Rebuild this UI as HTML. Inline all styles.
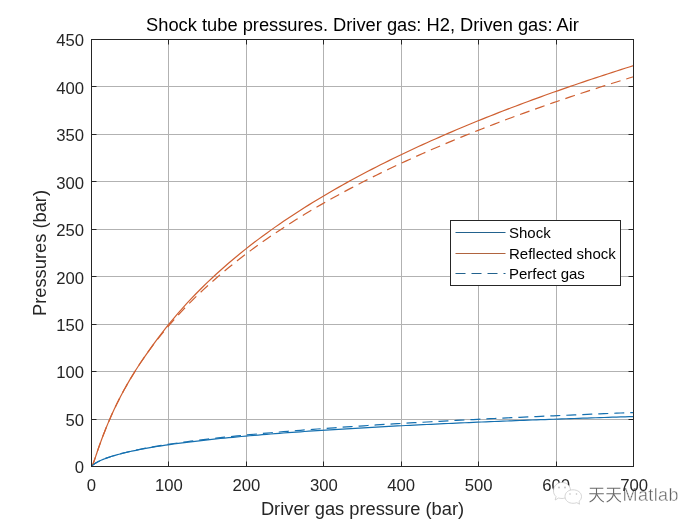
<!DOCTYPE html>
<html><head><meta charset="utf-8"><style>
html,body{margin:0;padding:0;background:#fff;}
svg{display:block;will-change:transform;font-family:"Liberation Sans",sans-serif;}
</style></head><body>
<svg width="700" height="525" viewBox="0 0 700 525">
<rect width="700" height="525" fill="#fff"/>
<path d="M168.5,39.5V466.5M246.5,39.5V466.5M323.5,39.5V466.5M401.5,39.5V466.5M478.5,39.5V466.5M556.5,39.5V466.5M91.5,419.5H633.5M91.5,371.5H633.5M91.5,324.5H633.5M91.5,276.5H633.5M91.5,229.5H633.5M91.5,181.5H633.5M91.5,134.5H633.5M91.5,86.5H633.5" stroke="#b2b2b2" stroke-width="1" fill="none"/>
<g fill="none" stroke-width="1.2" stroke-linejoin="round">
<path d="M91.50,466.50 L92.43,465.24 L93.05,463.80 L93.67,462.17 L94.29,460.44 L94.91,458.66 L95.53,456.85 L96.15,455.03 L96.77,453.21 L97.38,451.40 L98.00,449.60 L98.62,447.81 L99.24,446.05 L100.02,443.87 L101.61,439.50 L103.20,435.27 L104.79,431.17 L106.37,427.21 L107.96,423.37 L109.55,419.64 L111.14,416.03 L112.73,412.51 L114.32,409.10 L115.91,405.77 L117.50,402.53 L119.09,399.37 L120.68,396.29 L122.27,393.27 L123.86,390.33 L125.45,387.45 L127.04,384.63 L128.62,381.87 L130.21,379.16 L131.76,376.58 L135.98,369.78 L140.20,363.29 L144.41,357.09 L148.63,351.14 L152.84,345.43 L157.06,339.93 L161.28,334.63 L165.49,329.50 L169.71,324.54 L173.93,319.73 L178.14,315.07 L182.36,310.54 L186.57,306.13 L190.79,301.84 L195.01,297.67 L199.22,293.59 L203.44,289.62 L207.66,285.74 L211.87,281.94 L216.09,278.23 L220.30,274.60 L224.52,271.04 L228.74,267.56 L232.95,264.15 L237.17,260.80 L241.39,257.52 L245.60,254.29 L249.82,251.13 L254.03,248.01 L258.25,244.96 L262.47,241.95 L266.68,239.00 L270.90,236.09 L275.12,233.23 L279.33,230.41 L283.55,227.64 L287.77,224.90 L291.98,222.21 L296.20,219.56 L300.41,216.94 L304.63,214.36 L308.85,211.82 L313.06,209.31 L317.28,206.83 L321.50,204.39 L325.71,201.98 L329.93,199.60 L334.14,197.24 L338.36,194.92 L342.58,192.62 L346.79,190.36 L351.01,188.11 L355.23,185.90 L359.44,183.71 L363.66,181.54 L367.87,179.40 L372.09,177.28 L376.31,175.19 L380.52,173.12 L384.74,171.07 L388.96,169.04 L393.17,167.03 L397.39,165.04 L401.60,163.07 L405.82,161.12 L410.04,159.19 L414.25,157.28 L418.47,155.39 L422.69,153.52 L426.90,151.66 L431.12,149.82 L435.33,148.00 L439.55,146.19 L443.77,144.40 L447.98,142.62 L452.20,140.87 L456.42,139.12 L460.63,137.39 L464.85,135.68 L469.07,133.98 L473.28,132.30 L477.50,130.62 L481.71,128.97 L485.93,127.32 L490.15,125.69 L494.36,124.07 L498.58,122.47 L502.80,120.88 L507.01,119.30 L511.23,117.73 L515.44,116.17 L519.66,114.63 L523.88,113.09 L528.09,111.57 L532.31,110.06 L536.53,108.56 L540.74,107.07 L544.96,105.60 L549.17,104.13 L553.39,102.67 L557.61,101.23 L561.82,99.79 L566.04,98.36 L570.26,96.94 L574.47,95.54 L578.69,94.14 L582.90,92.75 L587.12,91.37 L591.34,90.00 L595.55,88.64 L599.77,87.28 L603.99,85.94 L608.20,84.60 L612.42,83.28 L616.63,81.96 L620.85,80.65 L625.07,79.34 L629.28,78.05 L633.50,76.76" stroke="#CF6032" stroke-dasharray="10,6"/>
<path d="M91.50,466.50 L92.43,465.40 L93.05,464.87 L93.67,464.38 L94.29,463.94 L94.91,463.53 L95.53,463.13 L96.15,462.76 L96.77,462.41 L97.38,462.07 L98.00,461.74 L98.62,461.43 L99.24,461.12 L100.02,460.75 L101.61,460.03 L103.20,459.36 L104.79,458.73 L106.37,458.13 L107.96,457.56 L109.55,457.01 L111.14,456.49 L112.73,455.98 L114.32,455.49 L115.91,455.02 L117.50,454.57 L119.09,454.13 L120.68,453.70 L122.27,453.28 L123.86,452.88 L125.45,452.49 L127.04,452.10 L128.62,451.73 L130.21,451.36 L131.76,451.01 L135.98,450.09 L140.20,449.23 L144.41,448.40 L148.63,447.61 L152.84,446.86 L157.06,446.14 L161.28,445.44 L165.49,444.77 L169.71,444.12 L173.93,443.50 L178.14,442.89 L182.36,442.30 L186.57,441.73 L190.79,441.17 L195.01,440.63 L199.22,440.11 L203.44,439.59 L207.66,439.09 L211.87,438.60 L216.09,438.13 L220.30,437.66 L224.52,437.20 L228.74,436.75 L232.95,436.32 L237.17,435.89 L241.39,435.47 L245.60,435.05 L249.82,434.65 L254.03,434.25 L258.25,433.86 L262.47,433.47 L266.68,433.10 L270.90,432.73 L275.12,432.36 L279.33,432.00 L283.55,431.65 L287.77,431.30 L291.98,430.95 L296.20,430.62 L300.41,430.28 L304.63,429.95 L308.85,429.63 L313.06,429.31 L317.28,429.00 L321.50,428.68 L325.71,428.38 L329.93,428.08 L334.14,427.78 L338.36,427.48 L342.58,427.19 L346.79,426.90 L351.01,426.62 L355.23,426.33 L359.44,426.06 L363.66,425.78 L367.87,425.51 L372.09,425.24 L376.31,424.97 L380.52,424.71 L384.74,424.45 L388.96,424.19 L393.17,423.94 L397.39,423.69 L401.60,423.44 L405.82,423.19 L410.04,422.95 L414.25,422.70 L418.47,422.46 L422.69,422.23 L426.90,421.99 L431.12,421.76 L435.33,421.53 L439.55,421.30 L443.77,421.07 L447.98,420.85 L452.20,420.63 L456.42,420.40 L460.63,420.19 L464.85,419.97 L469.07,419.75 L473.28,419.54 L477.50,419.33 L481.71,419.12 L485.93,418.91 L490.15,418.71 L494.36,418.50 L498.58,418.30 L502.80,418.10 L507.01,417.90 L511.23,417.70 L515.44,417.50 L519.66,417.31 L523.88,417.11 L528.09,416.92 L532.31,416.73 L536.53,416.54 L540.74,416.35 L544.96,416.17 L549.17,415.98 L553.39,415.80 L557.61,415.61 L561.82,415.43 L566.04,415.25 L570.26,415.07 L574.47,414.90 L578.69,414.72 L582.90,414.54 L587.12,414.37 L591.34,414.20 L595.55,414.02 L599.77,413.85 L603.99,413.68 L608.20,413.51 L612.42,413.35 L616.63,413.18 L620.85,413.02 L625.07,412.85 L629.28,412.69 L633.50,412.53" stroke="#1570B0" stroke-dasharray="10,6"/>
<path d="M91.50,466.50 L92.43,465.24 L93.05,463.80 L93.67,462.17 L94.29,460.44 L94.91,458.66 L95.53,456.85 L96.15,455.03 L96.77,453.21 L97.38,451.40 L98.00,449.60 L98.62,447.81 L99.24,446.05 L100.02,443.87 L101.61,439.50 L103.20,435.27 L104.79,431.17 L106.37,427.21 L107.96,423.37 L109.55,419.64 L111.14,416.03 L112.73,412.51 L114.32,409.10 L115.91,405.77 L117.50,402.53 L119.09,399.37 L120.68,396.29 L122.27,393.27 L123.86,390.33 L125.45,387.45 L127.04,384.63 L128.62,381.87 L130.21,379.16 L131.76,376.58 L135.98,369.78 L140.20,363.29 L144.41,357.09 L148.63,351.11 L152.84,345.13 L157.06,339.35 L161.28,333.78 L165.49,328.38 L169.71,323.15 L173.93,318.08 L178.14,313.15 L182.36,308.37 L186.57,303.72 L190.79,299.19 L195.01,294.78 L199.22,290.48 L203.44,286.29 L207.66,282.19 L211.87,278.20 L216.09,274.29 L220.30,270.47 L224.52,266.73 L228.74,263.06 L232.95,259.48 L237.17,255.97 L241.39,252.52 L245.60,249.14 L249.82,245.83 L254.03,242.57 L258.25,239.38 L262.47,236.24 L266.68,233.15 L270.90,230.12 L275.12,227.13 L279.33,224.20 L283.55,221.31 L287.77,218.47 L291.98,215.67 L296.20,212.91 L300.41,210.19 L304.63,207.51 L308.85,204.87 L313.06,202.27 L317.28,199.70 L321.50,197.17 L325.71,194.67 L329.93,192.20 L334.14,189.77 L338.36,187.36 L342.58,184.99 L346.79,182.64 L351.01,180.33 L355.23,178.04 L359.44,175.77 L363.66,173.54 L367.87,171.33 L372.09,169.14 L376.31,166.98 L380.52,164.84 L384.74,162.72 L388.96,160.63 L393.17,158.56 L397.39,156.51 L401.60,154.48 L405.82,152.47 L410.04,150.48 L414.25,148.51 L418.47,146.56 L422.69,144.63 L426.90,142.72 L431.12,140.82 L435.33,138.94 L439.55,137.08 L443.77,135.24 L447.98,133.41 L452.20,131.60 L456.42,129.81 L460.63,128.03 L464.85,126.26 L469.07,124.51 L473.28,122.78 L477.50,121.06 L481.71,119.35 L485.93,117.66 L490.15,115.98 L494.36,114.32 L498.58,112.67 L502.80,111.03 L507.01,109.40 L511.23,107.79 L515.44,106.19 L519.66,104.60 L523.88,103.02 L528.09,101.45 L532.31,99.90 L536.53,98.36 L540.74,96.83 L544.96,95.31 L549.17,93.80 L553.39,92.30 L557.61,90.81 L561.82,89.33 L566.04,87.86 L570.26,86.41 L574.47,84.96 L578.69,83.52 L582.90,82.09 L587.12,80.67 L591.34,79.26 L595.55,77.86 L599.77,76.47 L603.99,75.09 L608.20,73.71 L612.42,72.35 L616.63,70.99 L620.85,69.64 L625.07,68.30 L629.28,66.97 L633.50,65.65" stroke="#CF6032"/>
<path d="M91.50,466.50 L92.43,465.40 L93.05,464.87 L93.67,464.38 L94.29,463.94 L94.91,463.53 L95.53,463.14 L96.15,462.77 L96.77,462.41 L97.38,462.08 L98.00,461.75 L98.62,461.44 L99.24,461.13 L100.02,460.77 L101.61,460.05 L103.20,459.39 L104.79,458.76 L106.37,458.17 L107.96,457.60 L109.55,457.06 L111.14,456.54 L112.73,456.05 L114.32,455.57 L115.91,455.11 L117.50,454.66 L119.09,454.23 L120.68,453.81 L122.27,453.40 L123.86,453.01 L125.45,452.62 L127.04,452.25 L128.62,451.88 L130.21,451.52 L131.76,451.18 L135.98,450.30 L140.20,449.46 L144.41,448.66 L148.63,447.91 L152.84,447.18 L157.06,446.49 L161.28,445.82 L165.49,445.19 L169.71,444.57 L173.93,443.98 L178.14,443.40 L182.36,442.85 L186.57,442.31 L190.79,441.79 L195.01,441.28 L199.22,440.79 L203.44,440.31 L207.66,439.85 L211.87,439.39 L216.09,438.95 L220.30,438.52 L224.52,438.09 L228.74,437.68 L232.95,437.28 L237.17,436.88 L241.39,436.50 L245.60,436.12 L249.82,435.75 L254.03,435.38 L258.25,435.03 L262.47,434.68 L266.68,434.33 L270.90,434.00 L275.12,433.66 L279.33,433.34 L283.55,433.02 L287.77,432.71 L291.98,432.40 L296.20,432.09 L300.41,431.79 L304.63,431.50 L308.85,431.21 L313.06,430.92 L317.28,430.64 L321.50,430.36 L325.71,430.09 L329.93,429.82 L334.14,429.55 L338.36,429.29 L342.58,429.03 L346.79,428.78 L351.01,428.53 L355.23,428.28 L359.44,428.03 L363.66,427.79 L367.87,427.55 L372.09,427.31 L376.31,427.08 L380.52,426.85 L384.74,426.62 L388.96,426.40 L393.17,426.18 L397.39,425.96 L401.60,425.74 L405.82,425.52 L410.04,425.31 L414.25,425.10 L418.47,424.89 L422.69,424.69 L426.90,424.48 L431.12,424.28 L435.33,424.08 L439.55,423.89 L443.77,423.69 L447.98,423.50 L452.20,423.31 L456.42,423.12 L460.63,422.93 L464.85,422.75 L469.07,422.56 L473.28,422.38 L477.50,422.20 L481.71,422.02 L485.93,421.84 L490.15,421.67 L494.36,421.50 L498.58,421.32 L502.80,421.15 L507.01,420.99 L511.23,420.82 L515.44,420.65 L519.66,420.49 L523.88,420.33 L528.09,420.16 L532.31,420.01 L536.53,419.85 L540.74,419.69 L544.96,419.53 L549.17,419.38 L553.39,419.23 L557.61,419.07 L561.82,418.92 L566.04,418.77 L570.26,418.63 L574.47,418.48 L578.69,418.33 L582.90,418.19 L587.12,418.05 L591.34,417.90 L595.55,417.76 L599.77,417.62 L603.99,417.48 L608.20,417.35 L612.42,417.21 L616.63,417.07 L620.85,416.94 L625.07,416.81 L629.28,416.67 L633.50,416.54" stroke="#1570B0"/>
</g>
<path d="M168.5,466.5v-5M168.5,39.5v5M246.5,466.5v-5M246.5,39.5v5M323.5,466.5v-5M323.5,39.5v5M401.5,466.5v-5M401.5,39.5v5M478.5,466.5v-5M478.5,39.5v5M556.5,466.5v-5M556.5,39.5v5M91.5,419.5h5M633.5,419.5h-5M91.5,371.5h5M633.5,371.5h-5M91.5,324.5h5M633.5,324.5h-5M91.5,276.5h5M633.5,276.5h-5M91.5,229.5h5M633.5,229.5h-5M91.5,181.5h5M633.5,181.5h-5M91.5,134.5h5M633.5,134.5h-5M91.5,86.5h5M633.5,86.5h-5" stroke="#262626" stroke-width="1" fill="none"/>
<rect x="91.5" y="39.5" width="542.0" height="427.0" fill="none" stroke="#262626" stroke-width="1"/>
<g font-size="16.7" fill="#262626"><text x="91.5" y="490.5" text-anchor="middle">0</text><text x="168.9" y="490.5" text-anchor="middle">100</text><text x="246.4" y="490.5" text-anchor="middle">200</text><text x="323.8" y="490.5" text-anchor="middle">300</text><text x="401.2" y="490.5" text-anchor="middle">400</text><text x="478.6" y="490.5" text-anchor="middle">500</text><text x="556.1" y="490.5" text-anchor="middle">600</text><text x="84" y="473.3" text-anchor="end">0</text><text x="84" y="425.9" text-anchor="end">50</text><text x="84" y="378.4" text-anchor="end">100</text><text x="84" y="331.0" text-anchor="end">150</text><text x="84" y="283.5" text-anchor="end">200</text><text x="84" y="236.1" text-anchor="end">250</text><text x="84" y="188.6" text-anchor="end">300</text><text x="84" y="141.2" text-anchor="end">350</text><text x="84" y="93.7" text-anchor="end">400</text><text x="84" y="46.3" text-anchor="end">450</text></g>
<text x="362.5" y="30.5" text-anchor="middle" font-size="18.3" fill="#000">Shock tube pressures. Driver gas: H2, Driven gas: Air</text>
<text x="362.5" y="514.5" text-anchor="middle" font-size="18.3" fill="#262626">Driver gas pressure (bar)</text>
<text transform="translate(45.5,253) rotate(-90)" x="0" y="0" text-anchor="middle" font-size="18.3" fill="#262626">Pressures (bar)</text>
<rect x="450.5" y="220.5" width="170" height="65" fill="#fff" stroke="#262626" stroke-width="1"/><path d="M455.5,232.5H505.5" stroke="#22628E" stroke-width="1.1"/><path d="M455.5,253.5H505.5" stroke="#B0643F" stroke-width="1.1"/><path d="M455.5,273.5H505.5" stroke="#22628E" stroke-width="1.1" stroke-dasharray="10,6"/><g font-size="15" fill="#000"><text x="509" y="237.5">Shock</text><text x="509" y="258.5">Reflected shock</text><text x="509" y="279.2">Perfect gas</text></g>
<g stroke="#c4c4c4" stroke-width="0.7" fill="#fff"><path d="M553.5,491 C553.5,485.5 557.5,482.5 562,482.5 C566.8,482.5 570.5,485.8 570.5,490.5 C570.5,495 566.5,498.5 562,498.5 C560.5,498.5 559.5,498.2 558.5,498 L555.2,500 L556,496.5 C554.3,495 553.5,493.2 553.5,491 Z"/><path d="M565,496.5 C565,492.5 568.5,489.8 573,489.8 C577.5,489.8 581.5,492.5 581.5,496.5 C581.5,498.6 580.5,500.3 579,501.5 L579.6,504.2 L576.8,502.7 C575.5,503.1 574.3,503.3 573,503.3 C568.5,503.3 565,500.5 565,496.5 Z"/></g><g fill="#c0c0c0"><circle cx="559" cy="487.5" r="0.9"/><circle cx="565" cy="487.5" r="0.9"/><circle cx="570" cy="494" r="0.8"/><circle cx="576.5" cy="494" r="0.8"/></g><g fill="none" stroke="#fff" stroke-width="3" opacity="0.9"><path d="M589.8,488.3H603.3 M589.3,493.7H603.8 M596.5,488.3V493.7 C595.8,497.5 593.3,500.5 589.5999999999999,502 M596.8,494.5 C598.8,498 600.8,500.5 603.8,502"/><path d="M606.9,488.3H620.4 M606.4,493.7H620.9 M613.6,488.3V493.7 C612.9,497.5 610.4,500.5 606.6999999999999,502 M613.9,494.5 C615.9,498 617.9,500.5 620.9,502"/></g><g fill="none" stroke="#6a6a6a" stroke-width="1.1"><path d="M589.8,488.3H603.3 M589.3,493.7H603.8 M596.5,488.3V493.7 C595.8,497.5 593.3,500.5 589.5999999999999,502 M596.8,494.5 C598.8,498 600.8,500.5 603.8,502"/><path d="M606.9,488.3H620.4 M606.4,493.7H620.9 M613.6,488.3V493.7 C612.9,497.5 610.4,500.5 606.6999999999999,502 M613.9,494.5 C615.9,498 617.9,500.5 620.9,502"/></g><text x="622.5" y="500.6" font-size="18" letter-spacing="0.4" fill="#606060" stroke="#fff" stroke-width="0.45">Matlab</text><text x="634.1" y="490.5" text-anchor="middle" font-size="16.7" fill="#262626">700</text>
</svg>
</body></html>
